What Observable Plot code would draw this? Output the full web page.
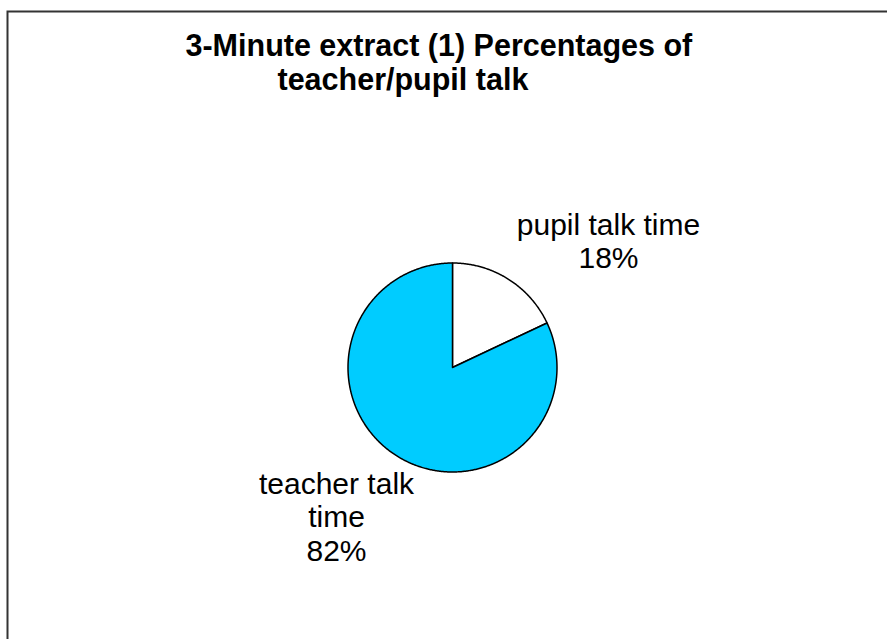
<!DOCTYPE html>
<html>
<head>
<meta charset="utf-8">
<script src="https://cdn.jsdelivr.net/npm/d3@7"></script>
<script src="https://cdn.jsdelivr.net/npm/@observablehq/plot@0.6"></script>
<style>
  html, body { margin: 0; padding: 0; background: #fff; overflow: hidden; }
  #chart svg { display: block; }
</style>
</head>
<body>
<div id="chart"></div>
<script>
// ---- data ----
const titleLines = ["3-Minute extract (1) Percentages of", "teacher/pupil talk"];
const categories = ["pupil talk time", "teacher talk time"];
const labelNames = ["pupil talk time", "teacher talk\ntime"];
const values = [18, 82];
const colors = ["#FFFFFF", "#00CCFF"];

// ---- layout ----
const W = 887, H = 639;
const CX = 452, CY = 367, R = 104.5;
const FONT = "'Liberation Sans', Arial, Helvetica, sans-serif";

const pie = d3.pie().sort(null).value(d => d.value);
const rows = categories.map((c, i) => ({category: c, label: labelNames[i], value: values[i]}));
const arcs = pie(rows);

// outline points of each slice in unit coordinates (y up)
const pts = [];
arcs.forEach(a => {
  const c = a.data.category;
  pts.push({category: c, x: 0, y: 0});
  const n = Math.max(2, Math.ceil((a.endAngle - a.startAngle) / (Math.PI / 360)));
  for (let k = 0; k <= n; k++) {
    const t = a.startAngle + (a.endAngle - a.startAngle) * k / n;
    pts.push({category: c, x: Math.sin(t), y: Math.cos(t)});
  }
  pts.push({category: c, x: 0, y: 0});
});

// label anchors: point on the rim at the slice mid-angle, then nudged
const nudges = [[100, -11], [-60, 105]];
const labels = arcs.map((a, i) => {
  const m = (a.startAngle + a.endAngle) / 2;
  return {
    text: `${a.data.label}\n${a.data.value}%`,
    x: Math.sin(m) + nudges[i][0] / R,
    y: Math.cos(m) - nudges[i][1] / R
  };
});

const chart = Plot.plot({
  width: W,
  height: H,
  margin: 0,
  style: {fontFamily: FONT, background: "#fff", overflow: "visible"},
  x: {domain: [-CX / R, (W - CX) / R], range: [0, W], axis: null},
  y: {domain: [-(H - CY) / R, CY / R], range: [H, 0], axis: null},
  color: {domain: categories, range: colors},
  marks: [
    Plot.frame({stroke: "#333", strokeWidth: 2, insetLeft: 7, insetTop: 11, insetRight: -20, insetBottom: -20}),
    Plot.line(pts, {x: "x", y: "y", z: "category", fill: "category", stroke: "#000", strokeWidth: 1.5, strokeLinejoin: "round", curve: "linear"}),
    Plot.text(labels, {x: "x", y: "y", text: "text", fontSize: 30, fill: "#000", textAnchor: "middle", lineAnchor: "bottom", lineHeight: 1.12, fontFamily: FONT}),
    Plot.text([titleLines[0]], {text: d => d, frameAnchor: "top-left", dx: 185, dy: 55, textAnchor: "start", lineAnchor: "bottom", fontSize: 30.5, fontWeight: "bold", fill: "#000", fontFamily: FONT}),
    Plot.text([titleLines[1]], {text: d => d, frameAnchor: "top-left", dx: 277, dy: 89, textAnchor: "start", lineAnchor: "bottom", fontSize: 30.5, fontWeight: "bold", fill: "#000", fontFamily: FONT})
  ]
});
document.getElementById("chart").appendChild(chart);
</script>
</body>
</html>
